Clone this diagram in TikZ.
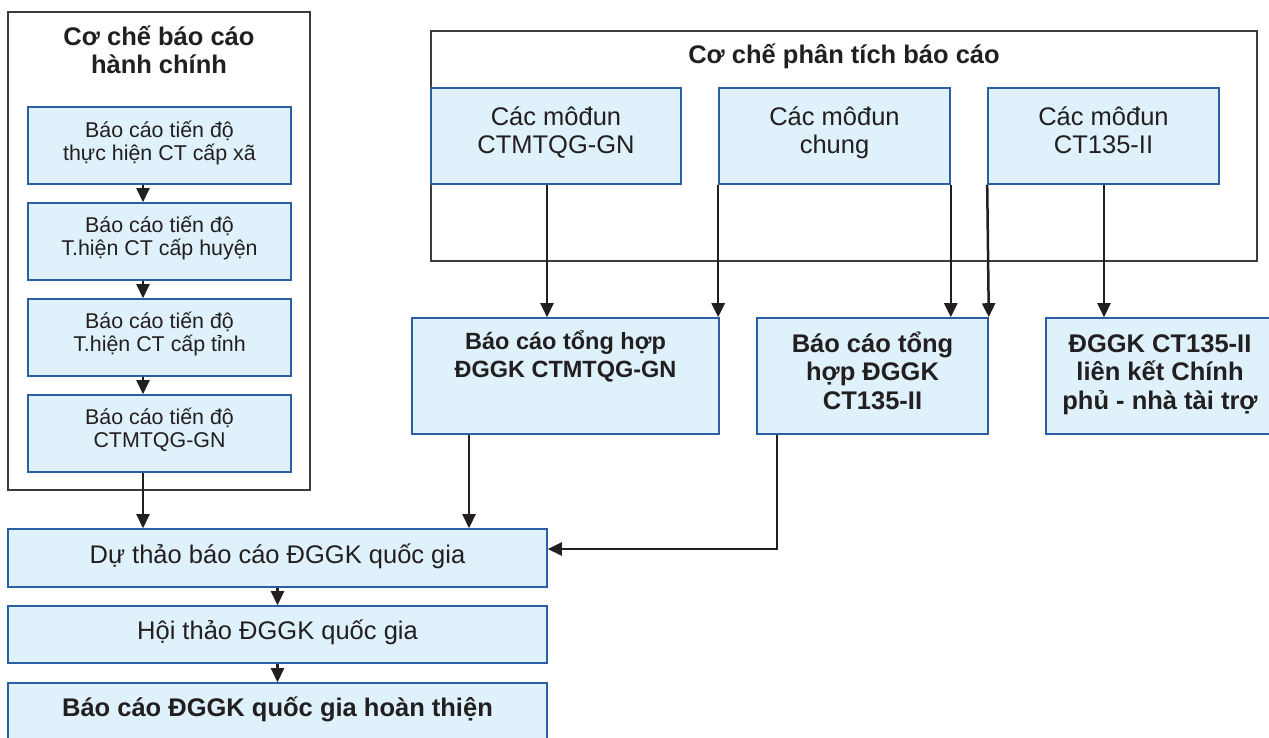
\documentclass[tikz,border=0pt]{standalone}
\usepackage{fontspec}
\setmainfont{Liberation Sans}
\usetikzlibrary{arrows.meta}
\definecolor{boxfill}{HTML}{DFF1FA}
\definecolor{boxline}{HTML}{2C5EA8}
\definecolor{frameline}{HTML}{3C3C3C}
\definecolor{ink}{HTML}{231F20}
% centred lines; the box baseline is that of the first line
\newcommand\lines[1]{\vtop{\lineskiplimit=-100pt\halign{\hfil##\hfil\cr#1\crcr}}}
\begin{document}
\begin{tikzpicture}[x=1pt,y=-1pt,
  frame/.style={draw=frameline, line width=1.9pt, inner sep=0pt},
  bluebox/.style={draw=boxline, fill=boxfill, line width=1.6pt, inner sep=0pt},
  txt/.style={anchor=base, inner sep=0pt, text=ink},
  small/.style={txt, font=\fontsize{21.4}{23}\selectfont},
  big/.style={txt, font=\fontsize{25.5}{28}\selectfont},
  bold/.style={txt, font=\fontsize{25.5}{28.7}\selectfont\bfseries},
  arr/.style={draw=ink, line width=2.5pt, -{Triangle[length=14pt,width=13pt]}}]
\useasboundingbox (0,0) rectangle (1269,737);

% administrative reporting chain
\node[frame, minimum width=302, minimum height=478] (adm) at (159,251) {};
\node[bold] (admt) at (159,45) {\lines{Cơ chế báo cáo\cr hành chính}};
\foreach \n/\y in {l1/145.5, l2/241.5, l3/337.5, l4/433.5}
  \node[bluebox, minimum width=263, minimum height=77] (\n) at (159.5,\y) {};
\node[small] (l1t) at (159.5,137.5) {\lines{Báo cáo tiến độ\cr thực hiện CT cấp xã}};
\node[small] (l2t) at (159.5,232.5) {\lines{Báo cáo tiến độ\cr T.hiện CT cấp huyện}};
\node[small] (l3t) at (159.5,328.5) {\lines{Báo cáo tiến độ\cr T.hiện CT cấp tỉnh}};
\node[small] (l4t) at (159.5,424.5) {\lines{Báo cáo tiến độ\cr CTMTQG-GN}};

% analytical reporting modules
\node[frame, minimum width=826, minimum height=230] (ana) at (844,146) {};
\node[bold] (anat) at (844,63) {Cơ chế phân tích báo cáo};
\node[bluebox, minimum width=250, minimum height=96] (a) at (556,136) {};
\node[bluebox, minimum width=231, minimum height=96] (b) at (834.5,136) {};
\node[bluebox, minimum width=231, minimum height=96] (c) at (1103.5,136) {};
\node[big] (at) at (556,125) {\lines{Các môđun\cr CTMTQG-GN}};
\node[big] (bt) at (834.5,125) {\lines{Các môđun\cr chung}};
\node[big] (ct) at (1103.5,125) {\lines{Các môđun\cr CT135-II}};

% synthesis reports
\node[bluebox, minimum width=307, minimum height=116] (m1) at (565.5,376) {};
\node[bluebox, minimum width=231, minimum height=116] (m2) at (872.5,376) {};
\node[bluebox, minimum width=228, minimum height=116] (m3) at (1160,376) {};
\node[bold, font=\fontsize{23.5}{27.5}\selectfont\bfseries] (m1t) at (565.5,349.5)
  {\lines{Báo cáo tổng hợp\cr ĐGGK CTMTQG-GN}};
\node[bold] (m2t) at (872.5,352) {\lines{Báo cáo tổng\cr hợp ĐGGK\cr CT135-II}};
\node[bold] (m3t) at (1160,352) {\lines{ĐGGK CT135-II\cr liên kết Chính\cr phủ - nhà tài trợ}};

% national report
\node[bluebox, minimum width=539, minimum height=58] (d) at (277.5,558) {};
\node[bluebox, minimum width=539, minimum height=57] (h) at (277.5,634.5) {};
\node[bluebox, minimum width=539, minimum height=62] (f) at (277.5,714) {};
\node[big] (dt) at (277.5,563) {Dự thảo báo cáo ĐGGK quốc gia};
\node[big] (ht) at (277.5,639) {Hội thảo ĐGGK quốc gia};
\node[bold] (ft) at (277.5,716) {Báo cáo ĐGGK quốc gia hoàn thiện};

% connectors
\coordinate (xl) at (143,0);
\draw[arr] (l1.south -| xl) -- (l2.north -| xl);
\draw[arr] (l2.south -| xl) -- (l3.north -| xl);
\draw[arr] (l3.south -| xl) -- (l4.north -| xl);
\draw[arr] (l4.south -| xl) -- (d.north -| xl);

\coordinate (xa) at (547,0);
\draw[arr] (a.south -| xa) -- (m1.north -| xa);
\draw[arr] (b.south west) -- (b.south west |- m1.north);
\draw[arr] (b.south east) -- (b.south east |- m2.north);
\draw[arr] (c.south west) -- (m2.north east);
\coordinate (xc) at (1104,0);
\draw[arr] (c.south -| xc) -- (m3.north -| xc);

\coordinate (xm1) at (469,0);
\draw[arr] (m1.south -| xm1) -- (d.north -| xm1);
\coordinate (xm2) at (777,549);
\draw[arr] (m2.south -| xm2) |- (d.east |- xm2);

\draw[arr] (d.south) -- (h.north);
\draw[arr] (h.south) -- (f.north);
\end{tikzpicture}
\end{document}
